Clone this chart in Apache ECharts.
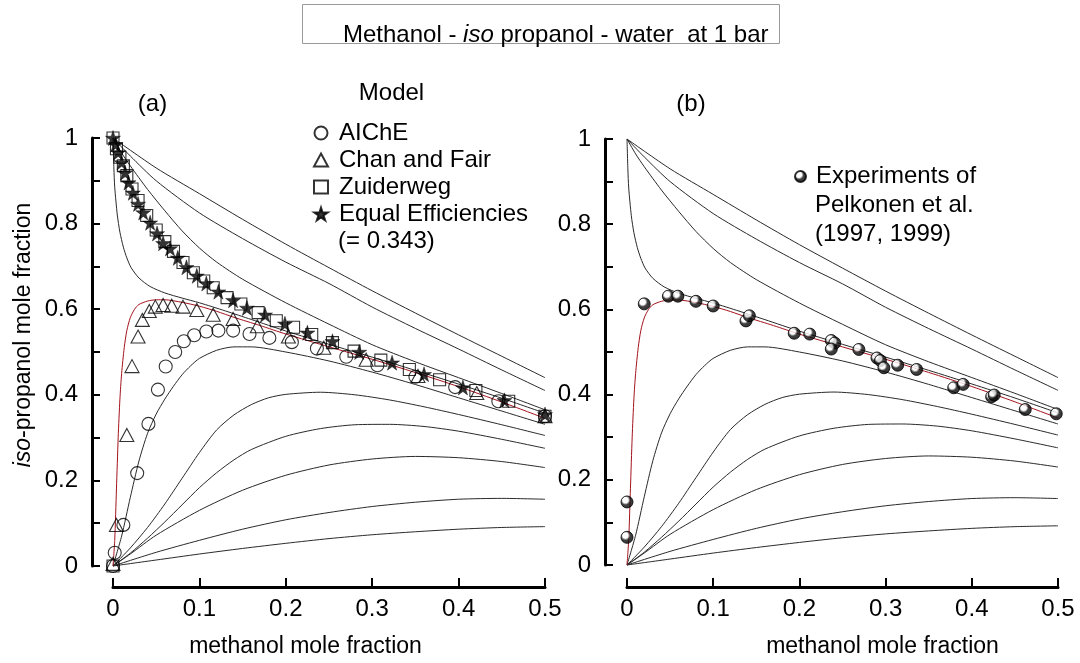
<!DOCTYPE html>
<html>
<head>
<meta charset="utf-8">
<title>Methanol - iso propanol - water at 1 bar</title>
<script src="https://cdn.jsdelivr.net/npm/echarts@6/dist/echarts.min.js"></script>
<style>
  html, body { margin: 0; padding: 0; background: #fff; }
  #chart { width: 1080px; height: 663px; }
</style>
</head>
<body>
<div id="chart"></div>
<script>
// ---- composition profiles (methanol x, iso-propanol y) ----
const profileTop = [[0,1],[0.05,0.93],[0.1,0.87],[0.15,0.81],[0.2,0.752],[0.25,0.697],[0.3,0.643],[0.35,0.591],[0.4,0.54],[0.45,0.49],[0.5,0.44]];
const profileSecond = [[0,1],[0.02,0.958],[0.05,0.9],[0.1,0.825],[0.15,0.765],[0.2,0.71],[0.25,0.66],[0.3,0.605],[0.35,0.555],[0.4,0.507],[0.45,0.458],[0.5,0.41]];
const profileThird = [[0,1],[0.01,0.965],[0.02,0.935],[0.04,0.88],[0.06,0.83],[0.08,0.783],[0.1,0.743],[0.12,0.71],[0.15,0.67],[0.2,0.615],[0.25,0.565],[0.3,0.517],[0.35,0.477],[0.4,0.44],[0.45,0.403],[0.5,0.365]];
const profileSteep = [[0,1],[0.001,0.93],[0.002,0.885],[0.005,0.82],[0.008,0.78],[0.012,0.745],[0.016,0.72],[0.021,0.697],[0.03,0.673],[0.043,0.653],[0.06,0.638],[0.08,0.626],[0.1,0.615],[0.13,0.596],[0.16,0.576],[0.2,0.549],[0.25,0.518],[0.3,0.488],[0.35,0.457],[0.4,0.425],[0.45,0.392],[0.5,0.357]];
const profileFitted = [[0,0],[0.002,0.06],[0.004,0.18],[0.006,0.3],[0.008,0.39],[0.01,0.45],[0.013,0.51],[0.016,0.55],[0.02,0.58],[0.025,0.6],[0.03,0.611],[0.04,0.619],[0.05,0.622],[0.06,0.622],[0.08,0.616],[0.1,0.607],[0.12,0.595],[0.14,0.581],[0.17,0.562],[0.2,0.542],[0.25,0.512],[0.3,0.483],[0.35,0.452],[0.4,0.419],[0.45,0.383],[0.5,0.345]];
const profileLow1 = [[0,0],[0.01,0.07],[0.02,0.16],[0.03,0.245],[0.04,0.31],[0.05,0.355],[0.06,0.39],[0.07,0.42],[0.08,0.447],[0.09,0.468],[0.1,0.485],[0.12,0.504],[0.14,0.512],[0.16,0.512],[0.2,0.5],[0.25,0.479],[0.3,0.453],[0.35,0.424],[0.4,0.393],[0.45,0.362],[0.5,0.331]];
const profileLow2 = [[0,0],[0.02,0.042],[0.04,0.09],[0.06,0.145],[0.08,0.205],[0.1,0.265],[0.12,0.318],[0.14,0.353],[0.16,0.377],[0.18,0.393],[0.2,0.401],[0.24,0.406],[0.28,0.4],[0.32,0.388],[0.36,0.372],[0.4,0.354],[0.45,0.33],[0.5,0.305]];
const profileLow3 = [[0,0],[0.02,0.03],[0.04,0.065],[0.06,0.103],[0.08,0.143],[0.1,0.183],[0.12,0.218],[0.14,0.248],[0.16,0.272],[0.2,0.303],[0.24,0.321],[0.28,0.33],[0.32,0.331],[0.36,0.326],[0.4,0.315],[0.45,0.296],[0.5,0.275]];
const profileLow4 = [[0,0],[0.02,0.028],[0.05,0.072],[0.1,0.13],[0.15,0.177],[0.2,0.212],[0.25,0.236],[0.3,0.25],[0.35,0.256],[0.4,0.253],[0.45,0.244],[0.5,0.23]];
const profileLow5 = [[0,0],[0.05,0.032],[0.1,0.06],[0.15,0.086],[0.2,0.108],[0.25,0.125],[0.3,0.139],[0.35,0.149],[0.4,0.156],[0.45,0.158],[0.5,0.156]];
const profileLow6 = [[0,0],[0.05,0.014],[0.1,0.028],[0.15,0.041],[0.2,0.053],[0.25,0.064],[0.3,0.073],[0.35,0.08],[0.4,0.086],[0.45,0.09],[0.5,0.092]];

// ---- model predictions, panel (a) ----
const aicheModel = [[0,0],[0.002,0.031],[0.012,0.096],[0.028,0.217],[0.041,0.332],[0.052,0.412],[0.061,0.466],[0.072,0.5],[0.082,0.525],[0.094,0.539],[0.108,0.548],[0.122,0.55],[0.139,0.55],[0.158,0.542],[0.181,0.533],[0.207,0.523],[0.236,0.508],[0.27,0.489],[0.306,0.469],[0.35,0.442],[0.396,0.418],[0.446,0.385],[0.5,0.35]];
const chanFairModel = [[0,0.005],[0.004,0.096],[0.016,0.306],[0.022,0.467],[0.029,0.536],[0.034,0.575],[0.042,0.596],[0.049,0.606],[0.058,0.61],[0.068,0.608],[0.081,0.606],[0.097,0.598],[0.116,0.587],[0.139,0.577],[0.167,0.56],[0.203,0.536],[0.244,0.51],[0.293,0.482],[0.353,0.444],[0.421,0.404],[0.5,0.35]];
const zuiderwegModel = [[0,0],[0,1],[0.004,0.975],[0.008,0.955],[0.012,0.935],[0.016,0.912],[0.022,0.881],[0.029,0.854],[0.039,0.819],[0.05,0.785],[0.06,0.758],[0.07,0.735],[0.081,0.709],[0.093,0.685],[0.105,0.666],[0.116,0.65],[0.132,0.627],[0.148,0.612],[0.168,0.592],[0.189,0.573],[0.209,0.558],[0.23,0.541],[0.254,0.522],[0.279,0.502],[0.31,0.481],[0.343,0.459],[0.378,0.435],[0.42,0.41],[0.458,0.385],[0.5,0.35]];
const equalEffModel = [[0,1],[0.003,0.985],[0.006,0.966],[0.01,0.943],[0.014,0.919],[0.018,0.896],[0.023,0.872],[0.029,0.846],[0.035,0.826],[0.043,0.802],[0.051,0.777],[0.058,0.754],[0.066,0.742],[0.075,0.72],[0.085,0.698],[0.097,0.678],[0.108,0.66],[0.122,0.641],[0.139,0.621],[0.155,0.603],[0.176,0.587],[0.199,0.566],[0.225,0.545],[0.254,0.525],[0.285,0.5],[0.323,0.475],[0.36,0.448],[0.405,0.417],[0.453,0.387],[0.5,0.354]];

// ---- measurements, panel (b) ----
const pelkonenData = [[0,0.148],[0,0.065],[0.02,0.613],[0.048,0.631],[0.059,0.631],[0.08,0.619],[0.1,0.608],[0.138,0.573],[0.142,0.585],[0.194,0.544],[0.212,0.542],[0.237,0.527],[0.241,0.521],[0.237,0.507],[0.269,0.506],[0.29,0.486],[0.294,0.48],[0.298,0.463],[0.314,0.469],[0.336,0.459],[0.379,0.416],[0.39,0.424],[0.423,0.395],[0.426,0.399],[0.462,0.365],[0.498,0.355]];

const blackProfiles = [profileTop, profileSecond, profileThird, profileSteep, profileLow1, profileLow2, profileLow3, profileLow4, profileLow5, profileLow6];

const FONT = '"Liberation Sans", Arial, Helvetica, sans-serif';
const STAR = 'path://M50,0L61.23,34.55L97.55,34.55L68.16,55.9L79.39,90.45L50,69.1L20.61,90.45L31.84,55.9L2.45,34.55L38.77,34.55Z';

function yLabel(v) {
  const k = Math.round(v * 10);
  return k % 2 === 0 ? String(k / 10) : '';
}

function xAxisFor(gridIndex, offset, namePadding) {
  return {
    type: 'value', gridIndex, min: 0, max: 0.5, interval: 0.1, offset,
    name: 'methanol mole fraction', nameLocation: 'middle', nameGap: 48,
    nameTextStyle: { color: '#000', fontSize: 23, fontFamily: FONT, padding: namePadding },
    axisLine: { show: true, onZero: false, lineStyle: { color: '#000', width: 3 } },
    axisTick: { show: true, inside: true, length: 9, lineStyle: { color: '#000', width: 2 } },
    axisLabel: { margin: 10, color: '#000', fontSize: 24, fontFamily: FONT,
                 formatter: v => String(Math.round(v * 10) / 10) },
    splitLine: { show: false }
  };
}

function yAxisFor(gridIndex, offset, withName) {
  const ax = {
    type: 'value', gridIndex, min: 0, max: 1, interval: 0.1, offset,
    axisLine: { show: true, onZero: false, lineStyle: { color: '#000', width: 3 } },
    axisTick: { show: true, inside: true, length: 8, lineStyle: { color: '#000', width: 2 } },
    axisLabel: { margin: 14, color: '#000', fontSize: 24, fontFamily: FONT, formatter: yLabel },
    splitLine: { show: false }
  };
  if (withName) {
    ax.name = '{i|iso}-propanol mole fraction';
    ax.nameLocation = 'middle';
    ax.nameGap = 57;
    ax.nameTextStyle = {
      color: '#000', fontSize: 23, fontFamily: FONT, padding: [0, 0, 0, 34],
      rich: { i: { fontStyle: 'italic', fontSize: 23, fontFamily: FONT, color: '#000' } }
    };
  }
  return ax;
}

function profileSeries(data, idx, red) {
  return {
    type: 'line', xAxisIndex: idx, yAxisIndex: idx, data,
    showSymbol: false, smooth: 0.25, clip: false,
    silent: true, z: red ? 3 : 2,
    lineStyle: { color: red ? '#a3121c' : '#2a2a2a', width: 1 }
  };
}

function hollow(name, data, symbol, size) {
  return {
    name, type: 'scatter', xAxisIndex: 0, yAxisIndex: 0, data, symbol, symbolSize: size,
    clip: false, z: 5,
    itemStyle: { color: 'rgba(255,255,255,0)', borderColor: '#000', borderWidth: 1.1 }
  };
}

const series = [];
[0, 1].forEach(idx => {
  blackProfiles.forEach(p => series.push(profileSeries(p, idx, false)));
  series.push(profileSeries(profileFitted, idx, true));
});
series.push(hollow('AIChE', aicheModel, 'circle', 13));
series.push(hollow('Chan and Fair', chanFairModel, 'triangle', [14, 13]));
series.push(hollow('Zuiderweg', zuiderwegModel, 'rect', 12));
series.push({
  name: 'Equal Efficiencies', type: 'scatter', xAxisIndex: 0, yAxisIndex: 0,
  data: equalEffModel, symbol: STAR, symbolSize: 15, clip: false, z: 6,
  itemStyle: { color: '#000', borderColor: '#000', borderWidth: 0.5 }
});
const ball = {
  type: 'radial', x: 0.38, y: 0.36, r: 0.7,
  colorStops: [
    { offset: 0, color: '#ffffff' }, { offset: 0.3, color: '#ffffff' },
    { offset: 0.52, color: '#111' }, { offset: 1, color: '#000' }
  ]
};
series.push({
  name: 'Experiments of', type: 'scatter', xAxisIndex: 1, yAxisIndex: 1,
  data: pelkonenData, symbol: 'circle', symbolSize: 12, clip: false, z: 6,
  itemStyle: { color: ball, borderColor: '#000', borderWidth: 1 }
});

const textStyle = { fontFamily: FONT, fontSize: 24, fill: '#000' };

const option = {
  animation: false,
  backgroundColor: '#fff',
  textStyle: { fontFamily: FONT },
  grid: [
    { left: 113, top: 138, width: 432, height: 434, containLabel: false },
    { left: 627, top: 139, width: 431, height: 432, containLabel: false }
  ],
  xAxis: [xAxisFor(0, 21, [0, 47, 0, 0]), xAxisFor(1, 22, [0, 0, 0, 80])],
  yAxis: [yAxisFor(0, 21, true), yAxisFor(1, 22, false)],
  legend: [
    {
      data: ['AIChE', 'Chan and Fair', 'Zuiderweg', 'Equal Efficiencies'],
      orient: 'vertical', left: 313, top: 119.5, itemWidth: 14, itemHeight: 13, itemGap: 0,
      selectedMode: false, padding: 0,
      textStyle: { color: '#000', fontSize: 24, fontFamily: FONT, lineHeight: 27, padding: [0, 0, 0, 6] }
    },
    {
      data: ['Experiments of'],
      orient: 'vertical', left: 794, top: 162.5, itemWidth: 11, itemHeight: 11, itemGap: 0,
      selectedMode: false, padding: 0,
      textStyle: { color: '#000', fontSize: 24, fontFamily: FONT, lineHeight: 28, padding: [0, 0, 0, 5] }
    }
  ],
  graphic: [
    { type: 'rect', left: 302, top: 4, shape: { width: 477, height: 39 },
      style: { fill: '#fff', stroke: '#9a9a9a', lineWidth: 1 }, silent: true },
    { type: 'text', left: 343, top: 23, style: {
        text: 'Methanol - {i|iso} propanol - water  at 1 bar',
        fontFamily: FONT, fontSize: 24, fill: '#000', verticalAlign: 'middle',
        rich: { i: { fontStyle: 'italic', fontFamily: FONT, fontSize: 24, fill: '#000' } } } },
    { type: 'text', x: 152.5, y: 104, style: Object.assign({ text: '(a)', align: 'center', verticalAlign: 'middle' }, textStyle) },
    { type: 'text', x: 691, y: 104, style: Object.assign({ text: '(b)', align: 'center', verticalAlign: 'middle' }, textStyle) },
    { type: 'text', x: 391.5, y: 93, style: Object.assign({ text: 'Model', align: 'center', verticalAlign: 'middle' }, textStyle) },
    { type: 'text', x: 338, y: 241, style: Object.assign({ text: '(= 0.343)', verticalAlign: 'middle' }, textStyle) },
    { type: 'text', x: 815, y: 205, style: Object.assign({ text: 'Pelkonen et al.', verticalAlign: 'middle' }, textStyle) },
    { type: 'text', x: 815, y: 234, style: Object.assign({ text: '(1997, 1999)', verticalAlign: 'middle' }, textStyle) }
  ],
  series
};

const chart = echarts.init(document.getElementById('chart'), null, { renderer: 'canvas' });
chart.setOption(option);
</script>
</body>
</html>
